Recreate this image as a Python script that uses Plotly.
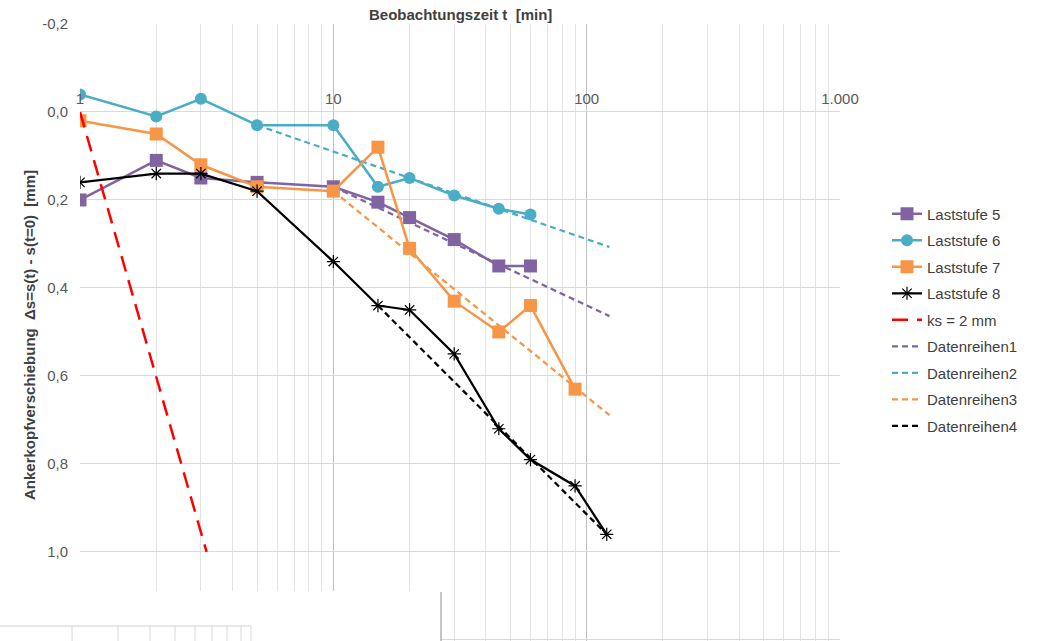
import plotly.graph_objects as go

# ---- data ----
t_obs = [1, 2, 3, 5, 10, 15, 20, 30, 45, 60]
laststufe5 = [0.20, 0.11, 0.15, 0.16, 0.17, 0.205, 0.24, 0.29, 0.35, 0.35]
laststufe6 = [-0.04, 0.01, -0.03, 0.03, 0.03, 0.17, 0.15, 0.19, 0.22, 0.233]
t_ls7 = [1, 2, 3, 5, 10, 15, 20, 30, 45, 60, 90]
laststufe7 = [0.02, 0.05, 0.12, 0.17, 0.18, 0.08, 0.31, 0.43, 0.50, 0.44, 0.63]
t_ls8 = [1, 2, 3, 5, 10, 15, 20, 30, 45, 60, 90, 120]
laststufe8 = [0.16, 0.14, 0.14, 0.18, 0.34, 0.44, 0.45, 0.55, 0.72, 0.79, 0.85, 0.96]
t_ks = [1, 3.16]
ks2 = [0.0, 1.0]
t_dr1 = [10, 123]
datenreihen1 = [0.17, 0.464]
t_dr2 = [5, 123]
datenreihen2 = [0.03, 0.307]
t_dr3 = [10, 123]
datenreihen3 = [0.18, 0.689]
t_dr4 = [15, 120]
datenreihen4 = [0.44, 0.96]

x_tickvals = [1, 10, 100, 1000]
x_ticktext = ["1", "10", "100", "1.000"]
x_minor = [m * d for d in (1, 10, 100) for m in range(2, 10)]
y_tickvals = [-0.2, 0.0, 0.2, 0.4, 0.6, 0.8, 1.0, 1.2]
y_ticktext = ["-0,2", "0,0", "0,2", "0,4", "0,6", "0,8", "1,0", ""]

PURPLE = "#8064A2"
TEAL = "#4BACC6"
ORANGE = "#F79646"
BLACK = "#000000"
RED = "#FF0000"
FONT = "Liberation Sans, Arial, sans-serif"

fig = go.Figure()

def add(x, y, name, color, mode="lines+markers", symbol=None, msize=10, dash=None, width=2.5, mline=None):
    marker = dict(color=color, size=msize)
    if symbol:
        marker["symbol"] = symbol
    if mline:
        marker["line"] = mline
    fig.add_trace(go.Scatter(
        x=x, y=y, name=name, mode=mode, legendgroup=name,
        line=dict(color=color, width=width, dash=dash),
        marker=marker,
    ))

# dashed trend lines drawn first (under)
add(t_dr1, datenreihen1, "Datenreihen1", PURPLE, mode="lines", dash="6px,4px", width=2.25)
add(t_dr2, datenreihen2, "Datenreihen2", TEAL, mode="lines", dash="6px,4px", width=2.25)
add(t_dr3, datenreihen3, "Datenreihen3", ORANGE, mode="lines", dash="6px,4px", width=2.25)
add(t_dr4, datenreihen4, "Datenreihen4", BLACK, mode="lines", dash="6px,4px", width=2.25)

add(t_obs, laststufe5, "Laststufe 5", PURPLE, symbol="square", msize=13)
add(t_obs, laststufe6, "Laststufe 6", TEAL, symbol="circle", msize=12)
add(t_ls7, laststufe7, "Laststufe 7", ORANGE, symbol="square", msize=13)
add(t_ls8, laststufe8, "Laststufe 8", BLACK, symbol="asterisk-open", msize=11,
    mline=dict(color=BLACK, width=1.2), width=2.25)
add(t_ks, ks2, "ks = 2 mm", RED, mode="lines", dash="16px,9px", width=2.5)

# legend order
order = ["Laststufe 5", "Laststufe 6", "Laststufe 7", "Laststufe 8", "ks = 2 mm",
         "Datenreihen1", "Datenreihen2", "Datenreihen3", "Datenreihen4"]
for tr in fig.data:
    tr.legendrank = order.index(tr.name) + 1

PLOT_L, PLOT_R, PLOT_T, PLOT_B = 80, 840, 24, 641
W, H = 1038, 641
pw = PLOT_R - PLOT_L
ph = PLOT_B - PLOT_T

def px_x(px):
    return (px - PLOT_L) / pw

def px_y(py):
    return (PLOT_B - py) / ph

fig.update_layout(
    width=W, height=H,
    margin=dict(l=PLOT_L, r=W - PLOT_R, t=PLOT_T, b=H - PLOT_B, autoexpand=False),
    paper_bgcolor="white", plot_bgcolor="white",
    font=dict(family=FONT, size=15, color="#595959"),
    showlegend=True,
    legend=dict(
        x=px_x(887), y=px_y(320), xanchor="left", yanchor="middle",
        font=dict(family=FONT, size=15, color="#404040"),
        tracegroupgap=4, itemwidth=30, bgcolor="rgba(0,0,0,0)",
        traceorder="grouped",
    ),
    xaxis=dict(
        type="log", range=[0, 3], side="top", anchor="free",
        position=px_y(112), automargin=False,
        tickmode="array", tickvals=x_tickvals, ticktext=x_ticktext,
        showgrid=True, gridcolor="#BFBFBF", gridwidth=1,
        showline=False, zeroline=False, ticks="",
        ticklabelstandoff=5,
        tickfont=dict(family=FONT, size=15, color="#595959"),
        minor=dict(tickvals=x_minor, showgrid=True, gridcolor="#E3E3E3", gridwidth=1, ticks=""),
    ),
    yaxis=dict(
        range=[1.2025, -0.2], autorange=False, automargin=False,
        tickmode="array", tickvals=y_tickvals, ticktext=y_ticktext,
        showgrid=True, gridcolor="#D9D9D9", gridwidth=1,
        zeroline=False, showline=False, ticks="",
        ticklabelstandoff=11,
        tickfont=dict(family=FONT, size=15, color="#595959"),
    ),
)

# axis titles
fig.add_annotation(
    text="<b>Beobachtungszeit t  [min]</b>", xref="paper", yref="paper",
    x=px_x(461), y=px_y(14), xanchor="center", yanchor="middle", showarrow=False,
    font=dict(family=FONT, size=15, color="#404040"),
)
fig.add_annotation(
    text="<b>Ankerkopfverschiebung  Δs=s(t) - s(t=0)  [mm]</b>", xref="paper", yref="paper",
    x=px_x(30), y=px_y(335), xanchor="center", yanchor="middle", showarrow=False,
    textangle=-90, font=dict(family=FONT, size=15, color="#404040"),
)

# screenshot artefacts at the bottom: white cover + remnants
fig.add_shape(type="rect", xref="paper", yref="paper",
              x0=px_x(-5), x1=px_x(441), y0=px_y(645), y1=px_y(591),
              fillcolor="white", line=dict(width=0), layer="above")
fig.add_shape(type="line", xref="paper", yref="paper",
              x0=px_x(441), x1=px_x(441), y0=px_y(592), y1=px_y(641),
              line=dict(color="#8C8C8C", width=1), layer="above")
fig.add_shape(type="line", xref="paper", yref="paper",
              x0=px_x(0), x1=px_x(251), y0=px_y(626), y1=px_y(626),
              line=dict(color="#D0D0D0", width=1), layer="above")
for vx in [72, 118, 150, 175, 195, 212, 227, 241, 251]:
    fig.add_shape(type="line", xref="paper", yref="paper",
                  x0=px_x(vx), x1=px_x(vx), y0=px_y(626), y1=px_y(641),
                  line=dict(color="#D8D8D8", width=1), layer="above")

fig.write_html(
    "out.html",
    config={"displayModeBar": False},
    post_script="document.body.style.margin='0';document.body.style.overflow='hidden';",
)
